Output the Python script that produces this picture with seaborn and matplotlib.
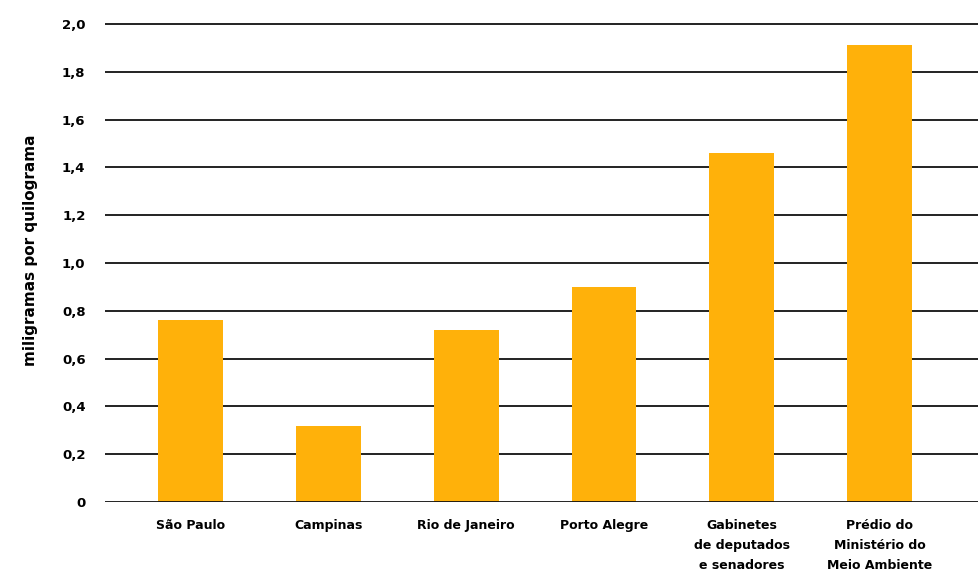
import matplotlib
matplotlib.use("Agg")
import matplotlib.pyplot as plt
import seaborn as sns
import pandas as pd

categories = ["São Paulo", "Campinas", "Rio de Janeiro", "Porto Alegre",
              "Gabinetes\nde deputados\ne senadores",
              "Prédio do\nMinistério do\nMeio Ambiente"]
values = [0.76, 0.32, 0.72, 0.90, 1.46, 1.91]
yticks = [0, 0.2, 0.4, 0.6, 0.8, 1.0, 1.2, 1.4, 1.6, 1.8, 2.0]
ytick_labels = ["0", "0,2", "0,4", "0,6", "0,8", "1,0", "1,2", "1,4", "1,6", "1,8", "2,0"]
ylabel = "miligramas por quilograma"

df = pd.DataFrame({"cat": categories, "val": values})

sns.set_theme(style="white")
plt.rcParams['font.family'] = ['DejaVu Sans']
plt.rcParams['text.color'] = 'black'
plt.rcParams['xtick.color'] = 'black'
plt.rcParams['ytick.color'] = 'black'
plt.rcParams['axes.labelcolor'] = 'black'

fig = plt.figure(figsize=(9.79, 5.76), dpi=100)
ax = fig.add_axes([105/979, 1 - 502/576, 1 - 105/979, (502 - 12)/576])

sns.barplot(data=df, x="cat", y="val", color="#FFB10A", saturation=1,
            width=0.47, ax=ax, zorder=3, linewidth=0, edgecolor="none")

ax.set_ylim(0, 2.05)
ax.set_xlim(-0.62, 5.72)
ax.set_yticks(yticks)
ax.set_yticklabels(ytick_labels, fontsize=9.5, fontweight="heavy")
for y in yticks:
    ax.axhline(y, color="#111111", lw=1.3, zorder=1 if y > 0 else 4)
ax.set_xticks(range(len(categories)))
ax.set_xticklabels(categories, fontsize=9, fontweight="heavy", linespacing=1.7, va="top")
ax.tick_params(axis="both", length=0)
ax.tick_params(axis="y", pad=14)
ax.tick_params(axis="x", pad=12)
for s in ax.spines.values():
    s.set_visible(False)
ax.set_xlabel("")
ax.set_ylabel(ylabel, fontsize=11, fontweight="heavy", labelpad=20)
ax.yaxis.set_label_coords(-67/874, (502 - 250) / 490)

fig.savefig("out.png", dpi=100)
